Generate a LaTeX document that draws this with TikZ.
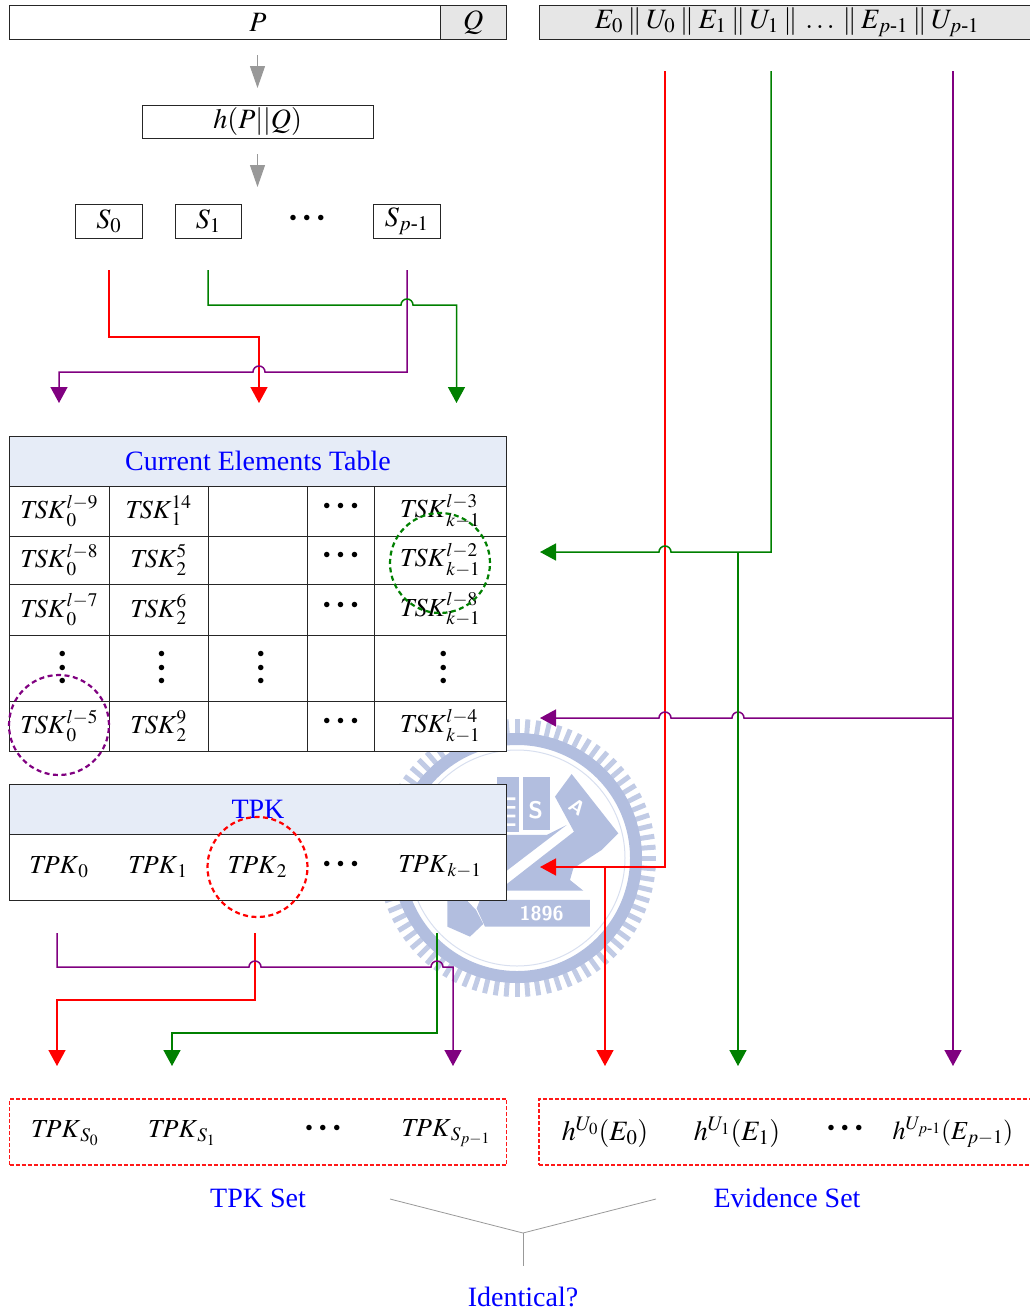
\documentclass[tikz,border=0pt]{standalone}
\usepackage{amsmath}
\usepackage{mathptmx}
\usepackage[no-math]{fontspec}
\setmainfont{Liberation Serif}
\usepackage{tikz}
\usetikzlibrary{arrows.meta,positioning,calc}
\definecolor{headblue}{HTML}{E6ECF7}
\definecolor{boxgray}{HTML}{E6E6E6}
\definecolor{sealblue}{HTML}{B2BEDF}
\definecolor{linegreen}{HTML}{008000}
\definecolor{linepurple}{HTML}{800080}
\newcommand{\TSK}{\mathit{TSK}}
\newcommand{\TPK}{\mathit{TPK}}
\newcommand{\onedot}{\hbox to 5pt{\hss\fontsize{14}{14}\selectfont$\bullet$\hss}}
\newcommand{\rowdots}{\raisebox{1.5pt}[0pt][0pt]{\onedot\hspace{9pt}\onedot\hspace{9pt}\onedot}}
\newcommand{\coldots}{\hspace{6pt}\vbox{\offinterlineskip\onedot\kern7pt\onedot\kern7pt\onedot}}
\newcommand{\joinbar}{\mskip3mu\|\mskip3mu}

\begin{document}
\begin{tikzpicture}[x=1pt, y=-1pt,
    font=\fontsize{28}{30}\selectfont,
    plainbox/.style={draw=black!85, fill=white, line width=1pt, inner sep=0pt, outer sep=0pt},
    cellbox/.style={plainbox, font=\fontsize{26}{28}\selectfont},
    graybox/.style={plainbox, fill=boxgray},
    headbox/.style={plainbox, fill=headblue, text=blue},
    dashbox/.style={draw=red!90, line width=1.2pt, inner sep=0pt, dash pattern=on 4pt off 2pt},
    bluelabel/.style={text=blue, inner sep=0pt},
    mathlabel/.style={inner sep=0pt},
    keylabel/.style={inner sep=0pt, font=\fontsize{26}{28}\selectfont},
    ringmark/.style={draw, circle, line width=2.2pt, minimum size=100pt, inner sep=0pt, dash pattern=on 5pt off 3.5pt},
    flowarrow/.style={-{Triangle[length=16pt,width=17pt]}, line width=1.5pt},
    grayarrow/.style={-{Triangle[length=22pt,width=15pt]}, line width=1.2pt, gray!80},
    joinline/.style={gray!80, line width=0.8pt}
]
    \useasboundingbox (0,0) rectangle (1030,1312);

    % Seal behind the tables
    \foreach \a in {0,4.5,...,355.5} {
        \draw[sealblue!80, line width=5pt] ([shift={(517,858)}]\a:122) -- ([shift={(517,858)}]\a:139);
    }
    \draw[sealblue, line width=12pt] (517,858) circle (119);
    \draw[sealblue!50, line width=1pt] (517,858) circle (108);
    \begin{scope}[shift={(370,700)}, x=0.3333pt, y=-0.3333pt]
        \fill[sealblue] (380,232) -- (448,232) -- (448,395) -- (380,395) -- cycle;
        \fill[white] (410,292) rectangle (436,300) (410,318) rectangle (436,326) (410,344) rectangle (436,352) (410,370) rectangle (436,378);
        \fill[sealblue] (460,232) -- (540,232) -- (540,390) -- (460,390) -- cycle;
        \node[text=white, font=\fontsize{24}{24}\bfseries\sffamily, inner sep=0pt] (sealS) at (497,330) {S};
        \fill[sealblue] (555,290) -- (605,222) -- (745,400) -- (695,450) -- (610,505) -- (600,540) -- (640,572) -- (385,572) -- (612,395) -- cycle;
        \node[text=white, font=\fontsize{20}{20}\bfseries\sffamily, rotate=-35, inner sep=0pt] (sealA) at (622,322) {A};
        \fill[sealblue] (400,405) -- (530,405) -- (590,375) -- (400,520) -- cycle;
        \fill[sealblue] (330,600) -- (660,600) -- (660,680) -- (345,680) -- (320,625) -- cycle;
        \node[text=white, font=\fontsize{20}{20}\bfseries\sffamily, inner sep=0pt] (sealyear) at (515,640) {1896};
        \fill[sealblue] (232,570) -- (285,595) -- (318,630) -- (340,672) -- (300,710) -- (232,680) -- cycle;
    \end{scope}

    % Message boxes
    \node[plainbox, minimum width=430.5pt, minimum height=33.5pt] (msgP) at (224.75,22.25) {};
    \node[mathlabel] (msgPtext) at (258,22) {$P$};
    \node[graybox, minimum width=66.5pt, minimum height=33.5pt] (msgQ) at (473.25,22.25) {$Q$};
    \node[graybox, minimum width=496pt, minimum height=33.5pt] (evidence) at (787,22.25) {$E_0\joinbar U_0\joinbar E_1\joinbar U_1\joinbar\ldots\joinbar E_{p\text{-}1}\joinbar U_{p\text{-}1}$};
    \node[plainbox, minimum width=231.5pt, minimum height=33pt] (hash) at (257.75,121.5) {$h(P||Q)$};
    \node[plainbox, minimum width=66.5pt, minimum height=33.5pt] (s0) at (108.75,221.25) {$S_0$};
    \node[plainbox, minimum width=66.5pt, minimum height=33.5pt] (s1) at (208.25,221.25) {$S_1$};
    \node[mathlabel] (sdots) at (307,223) {\rowdots};
    \node[plainbox, minimum width=66.5pt, minimum height=33.5pt] (sp) at (406.75,221.25) {$S_{p\text{-}1}$};

    % Current elements table
    \node[headbox, minimum width=497pt, minimum height=49.5pt] (cethead) at (258,461.25) {Current Elements Table};

    \node[cellbox, minimum width=99.5pt, minimum height=50pt] (c00) at (59.25,511) {$\TSK_{0}^{l-9}$};
    \node[cellbox, minimum width=99pt, minimum height=50pt] (c01) at (158.5,511) {$\TSK_{1}^{14}$};
    \node[cellbox, minimum width=99.5pt, minimum height=50pt] (c02) at (257.75,511) {};
    \node[cellbox, minimum width=66.5pt, minimum height=50pt] (c03) at (340.75,511) {\rowdots};
    \node[cellbox, minimum width=132.5pt, minimum height=50pt] (c04) at (440.25,511) {$\TSK_{k-1}^{l-3}$};

    \node[cellbox, minimum width=99.5pt, minimum height=48pt] (c10) at (59.25,560) {$\TSK_{0}^{l-8}$};
    \node[cellbox, minimum width=99pt, minimum height=48pt] (c11) at (158.5,560) {$\TSK_{2}^{5}$};
    \node[cellbox, minimum width=99.5pt, minimum height=48pt] (c12) at (257.75,560) {};
    \node[cellbox, minimum width=66.5pt, minimum height=48pt] (c13) at (340.75,560) {\rowdots};
    \node[cellbox, minimum width=132.5pt, minimum height=48pt] (c14) at (440.25,560) {$\TSK_{k-1}^{l-2}$};

    \node[cellbox, minimum width=99.5pt, minimum height=51pt] (c20) at (59.25,609.5) {$\TSK_{0}^{l-7}$};
    \node[cellbox, minimum width=99pt, minimum height=51pt] (c21) at (158.5,609.5) {$\TSK_{2}^{6}$};
    \node[cellbox, minimum width=99.5pt, minimum height=51pt] (c22) at (257.75,609.5) {};
    \node[cellbox, minimum width=66.5pt, minimum height=51pt] (c23) at (340.75,609.5) {\rowdots};
    \node[cellbox, minimum width=132.5pt, minimum height=51pt] (c24) at (440.25,609.5) {$\TSK_{k-1}^{l-8}$};

    \node[cellbox, minimum width=99.5pt, minimum height=66pt] (c30) at (59.25,668) {\coldots};
    \node[cellbox, minimum width=99pt, minimum height=66pt] (c31) at (158.5,668) {\coldots};
    \node[cellbox, minimum width=99.5pt, minimum height=66pt] (c32) at (257.75,668) {\coldots};
    \node[cellbox, minimum width=66.5pt, minimum height=66pt] (c33) at (340.75,668) {};
    \node[cellbox, minimum width=132.5pt, minimum height=66pt] (c34) at (440.25,668) {\coldots};

    \node[cellbox, minimum width=99.5pt, minimum height=50pt] (c40) at (59.25,726) {$\TSK_{0}^{l-5}$};
    \node[cellbox, minimum width=99pt, minimum height=50pt] (c41) at (158.5,726) {$\TSK_{2}^{9}$};
    \node[cellbox, minimum width=99.5pt, minimum height=50pt] (c42) at (257.75,726) {};
    \node[cellbox, minimum width=66.5pt, minimum height=50pt] (c43) at (340.75,726) {\rowdots};
    \node[cellbox, minimum width=132.5pt, minimum height=50pt] (c44) at (440.25,726) {$\TSK_{k-1}^{l-4}$};

    % TPK table
    \node[headbox, minimum width=497pt, minimum height=50pt] (tpkhead) at (258,809) {TPK};
    \node[plainbox, minimum width=497pt, minimum height=66pt] (tpkrow) at (258,867) {};
    \node[keylabel] (tpk0) at (59,867) {$\TPK_{0}$};
    \node[keylabel] (tpk1) at (158,867) {$\TPK_{1}$};
    \node[keylabel] (tpk2) at (257.5,867) {$\TPK_{2}$};
    \node[keylabel] (tpkdots) at (340.75,869) {\rowdots};
    \node[keylabel] (tpkl) at (440,867) {$\TPK_{k-1}$};

    % Dashed rings
    \node[ringmark, draw=linepurple] (ringpurple) at (59,725) {};
    \node[ringmark, draw=linegreen] (ringgreen) at (440,563) {};
    \node[ringmark, draw=red] (ringred) at (257.5,867) {};

    % Free ends of the connectors
    \coordinate (hashin) at (257.5,55);
    \coordinate (hashtip) at (257.5,88);
    \coordinate (splitin) at (257.5,154);
    \coordinate (splittip) at (257.5,187);
    \coordinate (s0out) at (109,270);
    \coordinate (s1out) at (208,270);
    \coordinate (spout) at (407,270);
    \coordinate (cetred) at (259,403);
    \coordinate (cetgreen) at (456.5,403);
    \coordinate (cetpurple) at (59,403);
    \coordinate (e0out) at (665,71);
    \coordinate (e1out) at (771,71);
    \coordinate (epout) at (953,71);
    \coordinate (redin) at (540,867);
    \coordinate (greenin) at (540,552);
    \coordinate (purplein) at (540,718);
    \coordinate (redfork) at (605,867);
    \coordinate (greenfork) at (738,552);
    \coordinate (purplefork) at (953,718);
    \coordinate (redend) at (605,1066);
    \coordinate (greenend) at (738,1066);
    \coordinate (purpleend) at (953,1066);
    \coordinate (t0out) at (57,933);
    \coordinate (t2out) at (255,933);
    \coordinate (tkout) at (437,933);
    \coordinate (setred) at (57,1066);
    \coordinate (setgreen) at (172,1066);
    \coordinate (setpurple) at (453,1066);

    % Arrows, top
    \draw[grayarrow] (hashin) -- (hashtip);
    \draw[grayarrow] (splitin) -- (splittip);

    % Arrows, S to tables
    \draw[flowarrow, red] (s0out) |- (259,337) -- (cetred);
    \draw[flowarrow, linepurple] (spout) |- (265,372) arc (0:-180:6) -- (59,372) -- (cetpurple);
    \draw[flowarrow, linegreen] (s1out) |- (401,305) arc (180:360:6) -- (456.5,305) -- (cetgreen);

    % Arrows, evidence to tables
    \draw[flowarrow, red] (e0out) |- (redin);
    \draw[flowarrow, linegreen] (e1out) |- (671,552) arc (0:-180:6) -- (greenin);
    \draw[flowarrow, linepurple] (purplefork) -- (744,718) arc (0:-180:6) -- (671,718) arc (0:-180:6) -- (purplein);
    \draw[flowarrow, red] (redfork) -- (redend);
    \draw[flowarrow, linegreen] (greenfork) -- (greenend);
    \draw[flowarrow, linepurple] (epout) -- (purpleend);

    % Arrows, TPK to set
    \draw[flowarrow, red] (t2out) |- (57,1000) -- (setred);
    \draw[flowarrow, linegreen] (tkout) |- (172,1033) -- (setgreen);
    \draw[flowarrow, linepurple] (t0out) |- (249,967) arc (180:360:6) -- (431,967) arc (180:360:6) -- (453,967) -- (setpurple);

    % Sets
    \node[dashbox, minimum width=497pt, minimum height=66pt] (tpkset) at (258,1132) {};
    \node[dashbox, minimum width=496pt, minimum height=66pt] (evset) at (787,1132) {};
    \node[keylabel] (ts0) at (65,1133) {$\TPK_{S_{0}}$};
    \node[keylabel] (ts1) at (182,1133) {$\TPK_{S_{1}}$};
    \node[keylabel] (tsdots) at (323,1133) {\rowdots};
    \node[keylabel] (tsp) at (446,1133) {$\TPK_{S_{p-1}}$};
    \node[mathlabel] (ev0) at (605,1132) {$h^{U_{0}}(E_{0})$};
    \node[mathlabel] (ev1) at (737,1132) {$h^{U_{1}}(E_{1})$};
    \node[mathlabel] (evdots) at (845,1133) {\rowdots};
    \node[keylabel] (evp) at (953,1132) {$h^{U_{p\text{-}1}}(E_{p-1})$};

    % Labels and the join
    \node[bluelabel] (tpkname) at (258,1198) {TPK Set};
    \node[bluelabel] (evname) at (787,1198) {Evidence Set};
    \node[bluelabel] (same) at (523,1297) {Identical?};
    \coordinate (joinleft) at (390,1199);
    \coordinate (joinright) at (656,1199);
    \coordinate (joinmid) at (523,1233);
    \coordinate (joinend) at (523,1266);
    \draw[joinline] (joinleft) -- (joinmid) -- (joinright);
    \draw[joinline] (joinmid) -- (joinend);
\end{tikzpicture}
\end{document}
